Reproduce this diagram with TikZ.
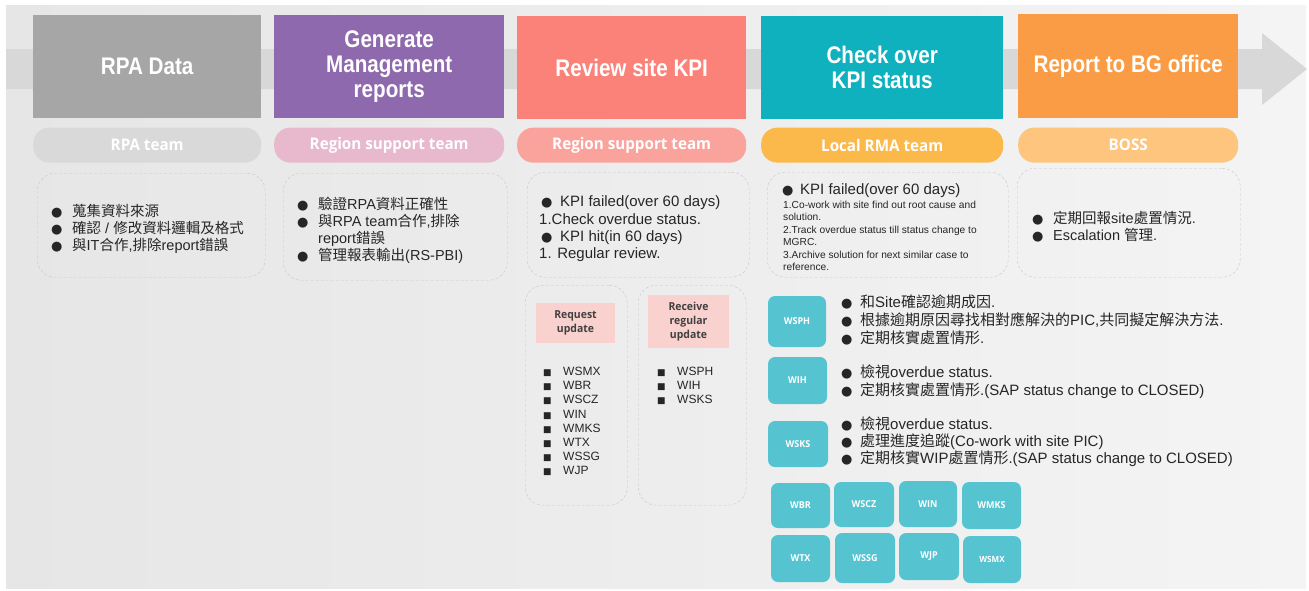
\documentclass[tikz,border=0pt]{standalone}
\usepackage{fontspec}
\setmainfont{Liberation Sans}
\newfontfamily\cjk{Noto Sans CJK TC}
\newfontfamily\stagefont[FakeStretch=0.86]{Liberation Sans}
\newfontfamily\teamfont[FakeStretch=0.95]{Open Sans}
\newfontfamily\symfont{DejaVu Sans}
\usetikzlibrary{positioning, shadings}
\definecolor{bgleft}{HTML}{E6E6E6}
\definecolor{bgright}{HTML}{F4F4F4}
\definecolor{band}{HTML}{D8D8D8}
\definecolor{rpagray}{HTML}{A6A6A6}
\definecolor{mgmtpurple}{HTML}{8F69AD}
\definecolor{kpisalmon}{HTML}{FB8279}
\definecolor{chkteal}{HTML}{10B1BE}
\definecolor{bgorange}{HTML}{F99C45}
\definecolor{pillgray}{HTML}{D9D9D9}
\definecolor{pillpink}{HTML}{E8B9CD}
\definecolor{pillsalmon}{HTML}{FAA39D}
\definecolor{pillamber}{HTML}{FBB94B}
\definecolor{pillorange}{HTML}{FDC57D}
\definecolor{siteteal}{HTML}{55C3D0}
\definecolor{tagpink}{HTML}{F9D2CF}
\definecolor{dashgray}{HTML}{C8C8C8}
\definecolor{bodytext}{HTML}{262626}
\newcommand{\zh}[1]{{\cjk #1}}
\newcommand{\dotbullet}[1][21pt]{\makebox[#1][l]{{\symfont\fontsize{13}{13}\selectfont ●}}}
\newcommand{\sqbullet}{\makebox[20pt][l]{{\symfont\fontsize{9}{9}\selectfont ■}}}
\newcommand{\hang}{\hspace*{21pt}}

\begin{document}
\begin{tikzpicture}[x=1pt, y=-1pt,
    stage/.style={rectangle, anchor=north west, minimum height=103pt, inner sep=0pt,
      text=white, align=center, font=\stagefont\bfseries\fontsize{24}{25}\selectfont},
    team/.style={rounded corners=16pt, minimum height=35pt, inner sep=0pt,
      text=white, font=\teamfont\bfseries\fontsize{16}{18}\selectfont},
    notebox/.style={draw=dashgray, dash pattern=on 3pt off 2pt, rounded corners=18pt,
      anchor=north west, inner sep=0pt},
    notetext/.style={anchor=west, inner sep=0pt, align=left, text=bodytext,
      font=\fontsize{14.5}{17}\selectfont},
    sitebox/.style={fill=siteteal, rounded corners=7pt, inner sep=0pt,
      text=white, font=\teamfont\bfseries\fontsize{9.5}{11}\selectfont},
    tag/.style={fill=tagpink, inner sep=0pt, align=center, text=black!75,
      font=\teamfont\bfseries\fontsize{11}{14.3}\selectfont}]

\fill[white] (0,0) rectangle (1309,590);
\useasboundingbox (0,0) rectangle (1309,590);
\shade[left color=bgleft, right color=bgright] (6,5) rectangle (1306,588);
\fill[band] (6,49) -- (1262,49) -- (1262,33) -- (1307,69) -- (1262,105) -- (1262,89) -- (6,89) -- cycle;

\node[stage, fill=rpagray, minimum width=228pt] (rpa) at (33,15) {RPA Data};
\node[stage, fill=mgmtpurple, minimum width=230pt] (mgmt) at (274,15) {Generate\\Management\\reports};
\node[stage, fill=kpisalmon, minimum width=229pt] (kpi) at (517,16) {Review site KPI};
\node[stage, fill=chkteal, minimum width=242pt] (chk) at (761,16) {Check over\\KPI status};
\node[stage, fill=bgorange, minimum width=220pt, minimum height=104pt] (bg) at (1018,14) {Report to BG office};

\node[team, fill=pillgray, minimum width=228pt, below=9pt of rpa] (rpateam) {RPA team};
\node[team, fill=pillpink, minimum width=230pt, below=9pt of mgmt] (mgmtteam) {Region support team};
\node[team, fill=pillsalmon, minimum width=229pt, below=8pt of kpi] (kpiteam) {Region support team};
\node[team, fill=pillamber, minimum width=242pt, below=8pt of chk] (chkteam) {Local RMA team};
\node[team, fill=pillorange, minimum width=220pt, below=9pt of bg] (bgteam) {BOSS};

\node[notebox, minimum width=228pt, minimum height=104pt] (rpanote) at (37,173) {};
\node[notebox, minimum width=224pt, minimum height=107pt] (mgmtnote) at (283,173) {};
\node[notebox, minimum width=222pt, minimum height=105pt] (kpinote) at (527,172) {};
\node[notebox, minimum width=241pt, minimum height=105pt] (chknote) at (767,172) {};
\node[notebox, minimum width=223pt, minimum height=109pt] (bgnote) at (1017,168) {};

\node[notetext] (rpatext) at (51,229) {\dotbullet\zh{蒐集資料來源}\\
  \dotbullet\zh{確認} / \zh{修改資料邏輯及格式}\\
  \dotbullet\zh{與}IT\zh{合作},\zh{排除}report\zh{錯誤}};
\node[notetext] (mgmttext) at (297,230) {\dotbullet\zh{驗證}RPA\zh{資料正確性}\\
  \dotbullet\zh{與}RPA team\zh{合作},\zh{排除}\\
  \hang report\zh{錯誤}\\
  \dotbullet\zh{管理報表輸出}(RS-PBI)};
\node[notetext, font=\fontsize{15}{17.4}\selectfont] (kpitext) at (539,229) {\hspace*{2pt}\dotbullet[19pt]KPI failed(over 60 days)\\
  1.Check overdue status.\\
  \hspace*{2pt}\dotbullet[19pt]KPI hit(in 60 days)\\
  1. Regular review.};
\node[notetext, font=\fontsize{15}{17}\selectfont] (chkhead) at (782,191) {\dotbullet[18pt]KPI failed(over 60 days)};
\node[notetext, anchor=north west, font=\fontsize{10.2}{12.4}\selectfont] (chktext) at (783,201) {1.Co-work with site find out root cause and\\
  solution.\\
  2.Track overdue status till status change to\\
  MGRC.\\
  3.Archive solution for next similar case to\\
  reference.};
\node[notetext] (bgtext) at (1032,227) {\dotbullet\zh{定期回報}site\zh{處置情況}.\\
  \dotbullet Escalation \zh{管理}.};

\node[notebox, minimum width=102pt, minimum height=220pt] (reqnote) at (525,285) {};
\node[notebox, minimum width=108pt, minimum height=220pt] (recvnote) at (638,285) {};
\node[tag, minimum width=79pt, minimum height=40pt] (req) at (575.5,323) {Request\\update};
\node[tag, minimum width=81pt, minimum height=53pt] (recv) at (688.5,321.5) {Receive\\regular\\update};
\node[notetext, font=\fontsize{12}{14.15}\selectfont] (reqlist) at (543,421.5) {\sqbullet WSMX\\
  \sqbullet WBR\\ \sqbullet WSCZ\\ \sqbullet WIN\\ \sqbullet WMKS\\
  \sqbullet WTX\\ \sqbullet WSSG\\ \sqbullet WJP};
\node[notetext, font=\fontsize{12}{14.15}\selectfont] (recvlist) at (657,386) {\sqbullet WSPH\\
  \sqbullet WIH\\ \sqbullet WSKS};

\node[sitebox, minimum width=58pt, minimum height=51pt] (wsph) at (797,321.5) {WSPH};
\node[sitebox, minimum width=59pt, minimum height=47pt] (wih) at (797.5,380.5) {WIH};
\node[sitebox, minimum width=60pt, minimum height=46pt] (wsks) at (798,444) {WSKS};
\node[notetext, font=\fontsize{15}{18}\selectfont] (wsphtext) at (841,320) {\dotbullet[19pt]\zh{和}Site\zh{確認逾期成因}.\\
  \dotbullet[19pt]\zh{根據逾期原因尋找相對應解決的}PIC,\zh{共同擬定解決方法}.\\
  \dotbullet[19pt]\zh{定期核實處置情形}.};
\node[notetext, font=\fontsize{15}{17.5}\selectfont] (wihtext) at (841,381.5) {\dotbullet[19pt]\zh{檢視}overdue status.\\
  \dotbullet[19pt]\zh{定期核實處置情形}.(SAP status change to CLOSED)};
\node[notetext, font=\fontsize{15}{17}\selectfont] (wskstext) at (841,442) {\dotbullet[19pt]\zh{檢視}overdue status.\\
  \dotbullet[19pt]\zh{處理進度追蹤}(Co-work with site PIC)\\
  \dotbullet[19pt]\zh{定期核實}WIP\zh{處置情形}.(SAP status change to CLOSED)};

\node[sitebox, minimum width=59pt, minimum height=45pt] (wbr) at (800.5,505.5) {WBR};
\node[sitebox, minimum width=60pt, minimum height=45pt] (wscz) at (864,504.5) {WSCZ};
\node[sitebox, minimum width=58pt, minimum height=46pt] (win) at (928,504) {WIN};
\node[sitebox, minimum width=59pt, minimum height=47pt] (wmks) at (991.5,505.5) {WMKS};
\node[sitebox, minimum width=59pt, minimum height=47pt] (wtx) at (800.5,558.5) {WTX};
\node[sitebox, minimum width=60pt, minimum height=50pt] (wssg) at (865,558) {WSSG};
\node[sitebox, minimum width=60pt, minimum height=47pt] (wjp) at (929,556.5) {WJP};
\node[sitebox, minimum width=58pt, minimum height=47pt, font=\teamfont\bfseries\fontsize{8.5}{10}\selectfont] (wsmx) at (992,559.5) {WSMX};

\end{tikzpicture}
\end{document}
